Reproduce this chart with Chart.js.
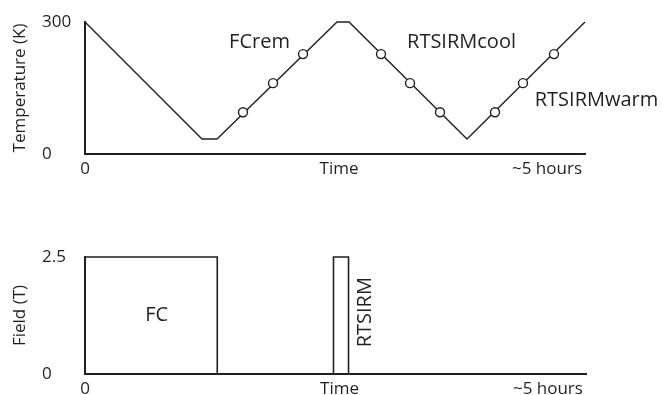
<!DOCTYPE html>
<html lang="en">
<head>
<meta charset="UTF-8">
<title>Temperature and field protocol</title>
<script src="https://cdn.jsdelivr.net/npm/chart.js"></script>
<style>
  body { margin: 0; background: #fff; }
  .wrap { position: relative; width: 662px; height: 395px; }
  .wrap canvas { position: absolute; left: 0; top: 0; }
</style>
</head>
<body>
<div class="wrap">
  <canvas id="tempChart" width="662" height="395"></canvas>
  <canvas id="fieldChart" width="662" height="395"></canvas>
</div>
<script>
// temperature path (hours, K)
const tempTime  = [0, 1.17, 1.32, 2.52, 2.64, 3.82, 5.0];
const tempValue = [300, 34, 34, 300, 300, 34, 300];
// measurement steps (open circles)
const stepTime = [1.58, 1.88, 2.18, 2.96, 3.25, 3.55, 4.10, 4.38, 4.69];
const stepTemp = [95, 161, 227, 227, 161, 95, 95, 161, 227];
// applied field (hours, T)
const fieldTime  = [0, 0, 1.32, 1.32, 2.48, 2.48, 2.63, 2.63, 5.0];
const fieldValue = [0, 2.5, 2.5, 0, 0, 2.5, 2.5, 0, 0];
// axis ticks
const timeTicks  = [0, 2.54, 4.62];
const timeLabels = ['0', 'Time', '~5 hours'];
const tempTicks  = [0, 300];
const fieldTicks = [0, 2.5];

const ink = '#231f20';
const fontFamily = '"Open Sans", "Noto Sans", sans-serif';

// vertical axis title + text labels inside the plot
const notesPlugin = {
  id: 'notes',
  afterDraw(chart, args, opts) {
    const { ctx, chartArea } = chart;
    const x = chart.scales.x, y = chart.scales.y;
    ctx.save();
    ctx.fillStyle = ink;
    ctx.textAlign = 'center';
    ctx.textBaseline = 'middle';

    ctx.font = '17px ' + fontFamily;
    ctx.save();
    ctx.translate(opts.titleX, (chartArea.top + chartArea.bottom) / 2);
    ctx.rotate(-Math.PI / 2);
    ctx.fillText(opts.title, 0, 0);
    ctx.restore();

    ctx.font = '20px ' + fontFamily;
    opts.labels.forEach(l => {
      const px = x.getPixelForValue(l.at[0]);
      const py = y.getPixelForValue(l.at[1]);
      ctx.save();
      ctx.translate(px, py);
      if (l.vertical) ctx.rotate(-Math.PI / 2);
      ctx.fillText(l.text, 0, 0);
      ctx.restore();
    });
    ctx.restore();
  }
};

function axes(yTicks, yMax, xHeight) {
  return {
    x: {
      type: 'linear', min: 0, max: 5,
      grid: { display: false, drawTicks: false },
      border: { display: true, color: ink, width: 2 },
      afterBuildTicks: s => { s.ticks = timeTicks.map(v => ({ value: v })); },
      afterFit: s => { s.height = xHeight; },
      ticks: {
        autoSkip: false, maxRotation: 0, padding: 5, color: ink,
        font: { family: fontFamily, size: 17 },
        callback: (v, i) => timeLabels[i]
      }
    },
    y: {
      type: 'linear', min: 0, max: yMax,
      grid: { display: false, drawTicks: false },
      border: { display: true, color: ink, width: 2 },
      afterBuildTicks: s => { s.ticks = yTicks.map(v => ({ value: v })); },
      afterFit: s => { s.width = 43; },
      ticks: {
        crossAlign: 'far', color: ink,
        font: { family: fontFamily, size: 17 },
        callback: v => String(v)
      }
    }
  };
}

new Chart(document.getElementById('tempChart'), {
  type: 'line',
  data: {
    datasets: [{
      data: stepTime.map((t, i) => ({ x: t, y: stepTemp[i] })),
      showLine: false,
      pointRadius: 4.5,
      pointBackgroundColor: '#fff',
      pointBorderColor: ink,
      pointBorderWidth: 1.4
    }, {
      data: tempTime.map((t, i) => ({ x: t, y: tempValue[i] })),
      borderColor: ink,
      borderWidth: 1.4,
      pointRadius: 0,
      clip: false
    }]
  },
  options: {
    responsive: false,
    animation: false,
    events: [],
    layout: { padding: { left: 42, top: 22, right: 77, bottom: 211 } },
    scales: axes(tempTicks, 300, 30),
    plugins: {
      legend: { display: false },
      tooltip: { enabled: false },
      notes: {
        title: 'Temperature (K)', titleX: 20,
        labels: [
          { text: 'FCrem', at: [1.745, 254] },
          { text: 'RTSIRMcool', at: [3.765, 254] },
          { text: 'RTSIRMwarm', at: [5.115, 123] }
        ]
      }
    }
  },
  plugins: [notesPlugin]
});

new Chart(document.getElementById('fieldChart'), {
  type: 'line',
  data: {
    datasets: [{
      data: fieldTime.map((t, i) => ({ x: t, y: fieldValue[i] })),
      borderColor: ink,
      borderWidth: 1.6,
      pointRadius: 0,
      clip: false
    }]
  },
  options: {
    responsive: false,
    animation: false,
    events: [],
    layout: { padding: { left: 42, top: 257, right: 76, bottom: 0 } },
    scales: axes(fieldTicks, 2.5, 21),
    plugins: {
      legend: { display: false },
      tooltip: { enabled: false },
      notes: {
        title: 'Field (T)', titleX: 20,
        labels: [
          { text: 'FC', at: [0.715, 1.25] },
          { text: 'RTSIRM', at: [2.80, 1.32], vertical: true }
        ]
      }
    }
  },
  plugins: [notesPlugin]
});
</script>
</body>
</html>
